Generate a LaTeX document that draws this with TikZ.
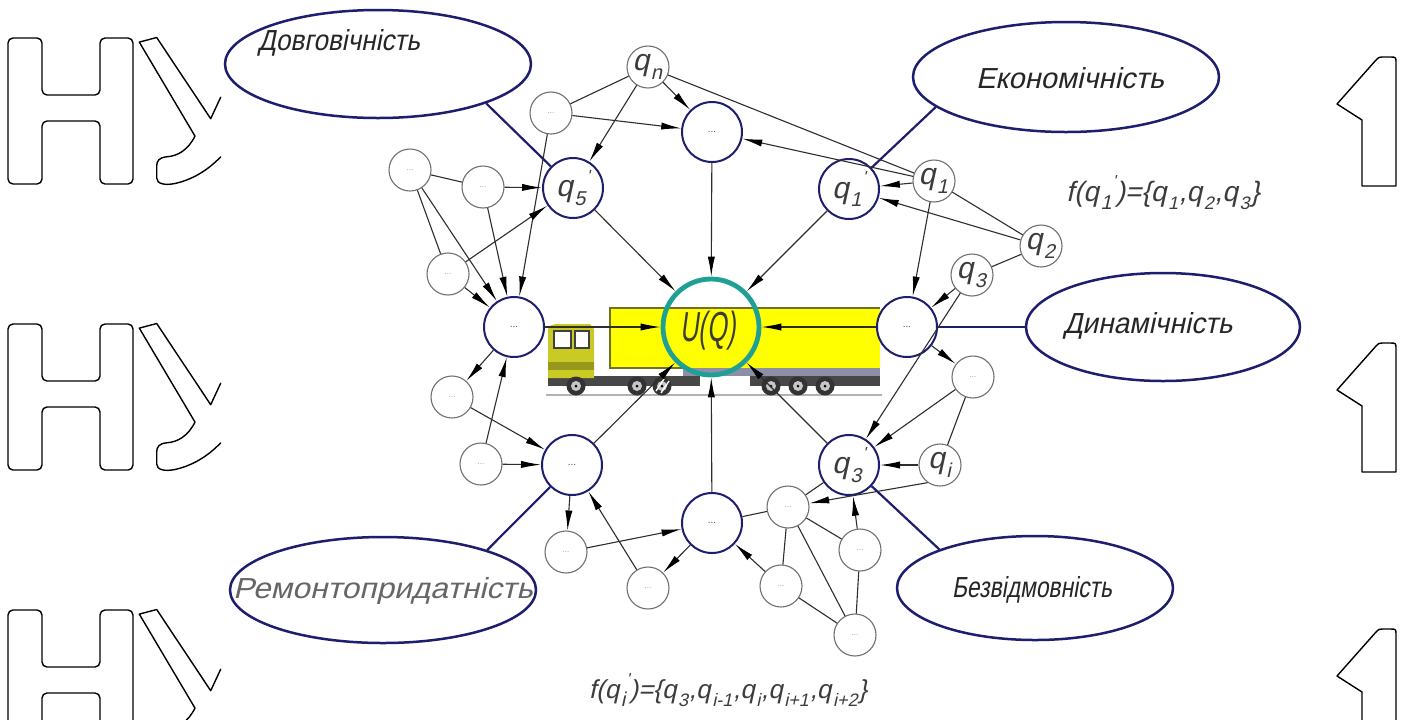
\documentclass[tikz,border=0pt]{standalone}
\usepackage{fontspec}
\usepackage{graphicx}
\setmainfont{Liberation Sans}
\newfontfamily\gost[FakeSlant=0.22]{Liberation Sans}
\usetikzlibrary{arrows.meta,shapes.geometric}

\definecolor{navyline}{HTML}{1E1E6E}
\definecolor{goalteal}{HTML}{1FA095}
\definecolor{ringgrey}{HTML}{707070}
\definecolor{wirecol}{HTML}{2E2E2E}
\definecolor{inkgrey}{HTML}{3C3C3C}
\definecolor{trailerfill}{HTML}{FFFF00}
\definecolor{traileredge}{HTML}{70702A}
\definecolor{cabfill}{HTML}{CACA24}
\definecolor{underbody}{HTML}{8E8EA6}

% subscript, and q with subscript and a mark after it
\newcommand\sbs[1]{\kern0.8pt\raisebox{-0.55ex}{\fontsize{9}{9}\selectfont #1}\kern0.4pt}
\newcommand\qv[2]{q\kern0.8pt\raisebox{-0.55ex}{\fontsize{10}{10}\selectfont #1}\kern0.6pt\raisebox{1.0ex}{\fontsize{8}{8}\selectfont #2}}
% squeeze text to a given width, keeping its height
\newcommand\fitto[2]{\resizebox{#1}{\height}{#2}}
\newcommand\hubdots{{\fontsize{5}{5}\selectfont\color{black!70}...}}
\newcommand\leafdots{{\fontsize{4}{4}\selectfont\color{black!40}...}}

\tikzset{
  hub/.style={circle,draw=navyline,line width=1pt,fill=white,minimum size=30pt,inner sep=0pt},
  leaf/.style={circle,draw=ringgrey,line width=0.55pt,fill=white,minimum size=21pt,inner sep=0pt},
  goal/.style={circle,draw=goalteal,line width=2.4pt,minimum size=48pt,inner sep=0pt},
  prop/.style={ellipse,draw=navyline,line width=1.25pt,inner sep=0pt},
  wire/.style={draw=wirecol,line width=0.55pt},
  flow/.style={wire,-{Latex[length=10pt,width=3.6pt,color=black]}},
  tie/.style={draw=navyline,line width=1.1pt},
  glyph/.style={draw=black,line width=0.7pt,line join=round,line cap=round},
  qlab/.style={font=\fontsize{15}{15}\selectfont\gost,text=inkgrey},
  proplab/.style={font=\fontsize{14.5}{14.5}\selectfont\gost,text=black!85}
}

\begin{document}
\begin{tikzpicture}[x=0.5pt,y=-0.5pt]
\useasboundingbox (0,0) rectangle (1408,719);
\fill[white] (0,0) rectangle (1408,719);

% outlined letters along both edges
\foreach \dy in {0,286,572}{
  \begin{scope}[shift={(0,\dy)}]
    \draw[glyph,rounded corners=2.5pt] (8,184) -- (8,38) -- (42,38) -- (42,95) -- (100,95) -- (100,38) -- (133,38) -- (133,184) -- (100,184) -- (100,121) -- (42,121) -- (42,184) -- cycle;
    \draw[glyph] (220.7,97.2) -- (210.7,118.7) -- (156.7,37.5) -- (139.3,42.1) -- (195,136.1)
      .. controls (188,150) and (178,156) .. (166.7,156.8)
      .. controls (159,157.5) and (156.7,161) .. (156.7,166) -- (156.7,178)
      .. controls (156.7,184) and (165,185.5) .. (175,183.5)
      .. controls (195,179) and (210,168) .. (220.7,156.8);
    \draw[glyph] (1337,104) -- (1376,60) .. controls (1379,57) .. (1385,57) -- (1390,57)
      .. controls (1396,57) .. (1396,63) -- (1396,186) -- (1362,186) -- (1362,120) -- cycle;
  \end{scope}
}

% the truck
\draw[black!30,line width=0.8pt] (546,395) -- (882,395);
\fill[black!72] (548,376) rectangle (700,386);
\fill[black!72] (750,375) rectangle (880,386);
\fill[underbody] (683,366) rectangle (880,376);
\fill[trailerfill] (610,308) rectangle (880,368);
\draw[traileredge,line width=0.8pt] (683,368) -- (610,368) -- (610,308) -- (880,308);
\fill[cabfill] (548,378) -- (548,333) .. controls (548,326) .. (556,324) -- (590,324) -- (594,329) -- (594,378) -- cycle;
\fill[cabfill!75!black] (548,362) rectangle (594,370);
\fill[white] (554,331) rectangle (571,348);
\fill[white] (575,331) rectangle (589,348);
\draw[black!75,line width=0.6pt] (554,331) rectangle (571,348) (575,331) rectangle (589,348);
\foreach \wx in {576,637,662,771,798,825}{
  \fill[black!80] (\wx,386) circle (9.5);
  \fill[gray!45] (\wx,386) circle (5);
  \fill[black] (\wx,386) circle (1.5);
}
\draw[white,line width=0.7pt] (656,391) -- (664,379) (661,393) -- (669,381);

% hubs and the goal
\node[goal] (uq) at (711,327) {};
\node[hub] (top) at (712,132) {\hubdots};
\node[hub] (left) at (514,327) {\hubdots};
\node[hub] (right) at (907,327) {\hubdots};
\node[hub] (bl) at (572,465) {\hubdots};
\node[hub] (bottom) at (712,523) {\hubdots};
\node[hub,qlab] (q5p) at (573,188) {\qv{5}{'}};
\node[hub,qlab] (q1p) at (849,189) {\qv{1}{'}};
\node[hub,qlab] (q3p) at (849,465) {\qv{3}{'}};

% leaves
\node[leaf,qlab] (qn) at (648,67) {\qv{n}{}};
\node[leaf,qlab] (q1) at (934,181) {\qv{1}{}};
\node[leaf,qlab] (q2) at (1041,246) {\qv{2}{}};
\node[leaf,qlab] (q3) at (972,275) {\qv{3}{}};
\node[leaf,qlab] (qi) at (940,465) {\qv{i}{}};
\node[leaf] (A) at (551,113) {\leafdots};
\node[leaf] (B) at (410,170) {\leafdots};
\node[leaf] (C) at (483,187) {\leafdots};
\node[leaf] (D) at (448,274) {\leafdots};
\node[leaf] (E) at (452,397) {\leafdots};
\node[leaf] (F) at (481,464) {\leafdots};
\node[leaf] (G) at (566,552) {\leafdots};
\node[leaf] (H) at (648,588) {\leafdots};
\node[leaf] (I) at (788,507) {\leafdots};
\node[leaf] (J) at (860,550) {\leafdots};
\node[leaf] (K) at (781,586) {\leafdots};
\node[leaf] (L) at (855,635) {\leafdots};
\node[leaf] (M) at (973,377) {\leafdots};

% properties
\node[prop,minimum width=153pt,minimum height=54pt] (dov) at (378,64) {};
\node[prop,minimum width=153pt,minimum height=55pt] (eko) at (1066,77) {};
\node[prop,minimum width=137pt,minimum height=54pt] (din) at (1163,327) {};
\node[prop,minimum width=138pt,minimum height=52pt] (bez) at (1035,588) {};
\node[prop,minimum width=153pt,minimum height=53pt] (rem) at (383,590) {};

\node[proplab] (tdov) at (339,43) {\fitto{81pt}{Довговічність}};
\node[proplab] (teko) at (1070,78) {\fitto{94pt}{Економічність}};
\node[proplab] (tdin) at (1148,326) {\fitto{84.5pt}{Динамічність}};
\node[proplab] (tbez) at (1032,590) {\fitto{80pt}{Безвідмовність}};
\node[proplab,text=black!60] (trem) at (383,591) {\fitto{150pt}{Ремонтопридатність}};

% property ties
\draw[tie] (dov.-20) -- (q5p);
\draw[tie] (eko.193) -- (q1p);
\draw[tie] (din.west) -- (right);
\draw[tie] (bez.158) -- (q3p);
\draw[tie] (rem.21) -- (bl);

% into the goal
\foreach \s in {top,bottom,left,right,q5p,q1p,bl,q3p}
  \draw[flow] (\s) -- (uq);

% plain links
\draw[wire] (qn) -- (A);
\draw[wire] (qn) -- (q1);
\draw[wire] (B) -- (C);
\draw[wire] (B) -- (D);
\draw[wire] (I) -- (bottom);
\draw[wire] (I) -- (q3p);
\draw[wire] (I) -- (J);
\draw[wire] (I) -- (K);
\draw[wire] (I) -- (L);
\draw[wire] (J) -- (L);
\draw[wire] (K) -- (L);
\draw[wire] (M) -- (qi);
\draw[wire] (q1) -- (q2);
\draw[wire] (q2) -- (q3);

% directed links
\draw[flow] (qn) -- (top);
\draw[flow] (qn) -- (q5p);
\draw[flow] (A) -- (top);
\draw[flow] (A) -- (left);
\draw[flow] (C) -- (q5p);
\draw[flow] (C) -- (left);
\draw[flow] (B) -- (left);
\draw[flow] (D) -- (left);
\draw[flow] (D) -- (q5p);
\draw[flow] (left) -- (E);
\draw[flow] (E) -- (bl);
\draw[flow] (F) -- (bl);
\draw[flow] (F) -- (left);
\draw[flow] (bl) -- (G);
\draw[flow] (G) -- (bottom);
\draw[flow] (H) -- (bl);
\draw[flow] (bottom) -- (H);
\draw[flow] (K) -- (bottom);
\draw[flow] (qi.235) -- (I);
\draw[flow] (J) -- (q3p);
\draw[flow] (qi) -- (q3p);
\draw[flow] (M) -- (q3p);
\draw[flow] (q3) -- (q3p);
\draw[flow] (right) -- (M);
\draw[flow] (q1) -- (q1p);
\draw[flow] (q2) -- (q1p);
\draw[flow] (q1) -- (right);
\draw[flow] (q3) -- (right);
\draw[flow] (q1) -- (top);

% labels
\node[font=\fontsize{21}{21}\selectfont\gost,text=inkgrey] (uqt) at (708,331) {\fitto{27.5pt}{U(Q)}};
\node[font=\fontsize{14}{14}\selectfont\gost,text=inkgrey] (fone) at (1163,193) {f(\qv{1}{'})=\{q\sbs{1},q\sbs{2},q\sbs{3}\}};
\node[font=\fontsize{13}{13}\selectfont\gost,text=inkgrey] (fi) at (728,690) {f(\qv{i}{'})=\{q\sbs{3},q\sbs{i-1},q\sbs{i},q\sbs{i+1},q\sbs{i+2}\}};
\end{tikzpicture}
\end{document}
